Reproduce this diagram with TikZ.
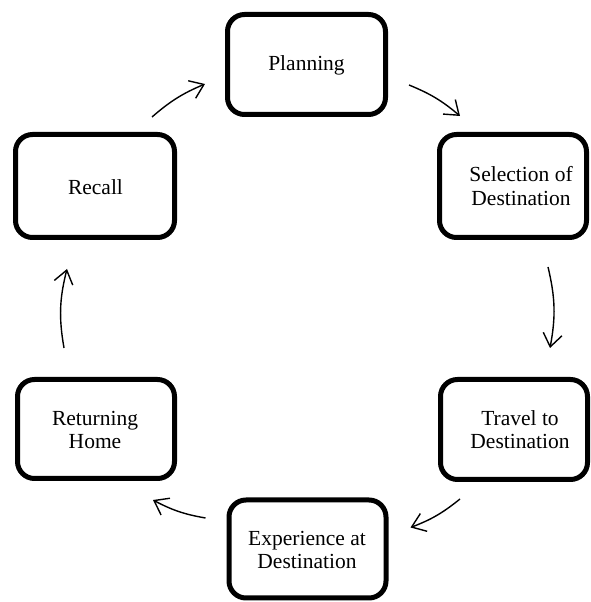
\documentclass[tikz,border=0pt]{standalone}
\usepackage{fontspec}
\setmainfont{Liberation Serif}
\usetikzlibrary{arrows.meta}
\begin{document}
\begin{tikzpicture}[x=1pt,y=1pt,
  stage/.style={draw=black, line width=5pt, rounded corners=17pt, fill=white,
    inner sep=0pt},
  lbl/.style={align=center, font=\fontsize{21.5}{23.5}\selectfont, inner sep=0pt},
  flow/.style={line width=1.4pt, -{Straight Barb[length=13pt,width=19pt]}, bend left=9}
]
\useasboundingbox (0,0) rectangle (590,602);

% stage boxes
\node[stage, minimum width=158, minimum height=100] (plan) at (306.5,537.5) {};
\node[stage, minimum width=159, minimum height=103] (recall) at (95,416) {};
\node[stage, minimum width=147, minimum height=103] (sel) at (513,416) {};
\node[stage, minimum width=147, minimum height=100] (travel) at (514,172.5) {};
\node[stage, minimum width=157, minimum height=98] (exper) at (307.5,53) {};
\node[stage, minimum width=157, minimum height=99] (ret) at (96,173) {};

% labels
\node[lbl] (tplan) at (306.5,537) {Planning};
\node[lbl] (trecall) at (95.5,415) {Recall};
\node[lbl] (tsel) at ([xshift=8]sel.center) {Selection of\\Destination};
\node[lbl] (ttravel) at ([xshift=6]travel.center) {Travel to\\Destination};
\node[lbl] (texper) at (307,52) {Experience at\\Destination};
\node[lbl] (tret) at (95,172) {Returning\\Home};

% cycle arrows
\draw[flow] ([shift={(57,15)}]recall.north) to ([shift={(-20,-19.5)}]plan.west);
\draw[flow] ([shift={(21,-20.5)}]plan.east) to ([shift={(23,16)}]sel.north west);
\draw[flow, bend left=12] ([shift={(35,-27)}]sel.south) to ([shift={(36,29)}]travel.north);
\draw[flow] ([shift={(22,-17)}]travel.south west) to ([shift={(22,-30)}]exper.north east);
\draw[flow] ([shift={(-21,31)}]exper.west) to ([shift={(57,-19)}]ret.south);
\draw[flow, bend left=12] ([shift={(-32,29)}]ret.north) to ([shift={(-28,-29)}]recall.south);
\end{tikzpicture}
\end{document}
